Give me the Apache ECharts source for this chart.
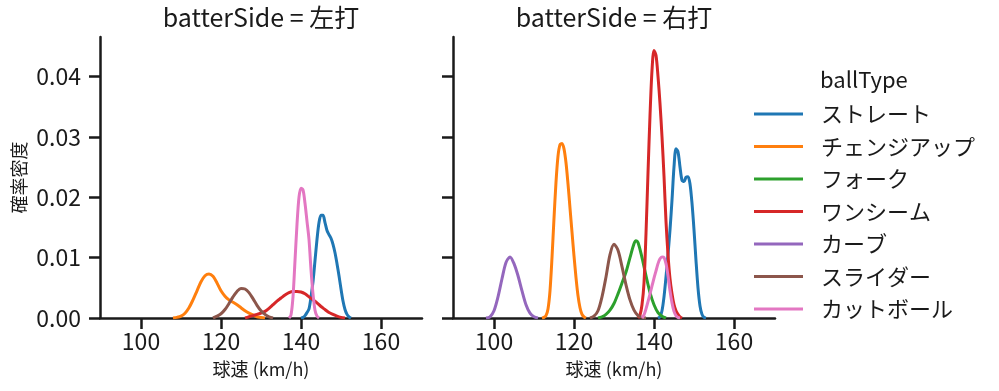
<!DOCTYPE html>
<html>
<head>
<meta charset="utf-8">
<script src="https://cdn.jsdelivr.net/npm/echarts@6/dist/echarts.min.js"></script>
<style>html,body{margin:0;padding:0;background:#fff;}#c{width:999px;height:391px;}</style>
</head>
<body>
<div id="c"></div>
<script>
// ---- data ----
const panelTitles = ['batterSide = 左打', 'batterSide = 右打'];
const ballTypes = ['ストレート', 'チェンジアップ', 'フォーク', 'ワンシーム', 'カーブ', 'スライダー', 'カットボール'];
const xTicks = [100, 120, 140, 160];
const yTicks = [0, 0.01, 0.02, 0.03, 0.04];

// 左打 (left-handed batters)
const leftStraight = [[140,0],[140.5,0.0001],[141,0.0004],[141.5,0.0009],[142,0.0015],[142.5,0.0035],[143,0.006],[143.5,0.0095],[144,0.013],[144.5,0.0158],[145,0.017],[145.5,0.017],[146,0.0158],[146.5,0.0145],[147,0.0138],[147.5,0.0132],[148,0.0122],[148.5,0.0108],[149,0.009],[149.5,0.007],[150,0.0048],[150.5,0.0028],[151,0.0014],[151.5,0.0006],[152,0.0002],[152.5,0]];
const leftChangeup = [[108,0],[109,0.0001],[110,0.0003],[111,0.0008],[112,0.0017],[113,0.003],[114,0.0045],[115,0.006],[116,0.007],[117,0.0073],[118,0.0069],[119,0.0058],[120,0.0045],[121,0.0036],[122,0.003],[123,0.0026],[124,0.0022],[125,0.0017],[126,0.0012],[127,0.0008],[128,0.0005],[129,0.0002],[130,0.0001],[131,0]];
const leftOneSeam = [[126,0],[127,0.0002],[128,0.0004],[129,0.0006],[130,0.0008],[131,0.0011],[132,0.0016],[133,0.0022],[134,0.0028],[135,0.0033],[136,0.0038],[137,0.0042],[138,0.0044],[139,0.0044],[140,0.0043],[141,0.004],[142,0.0035],[143,0.003],[144,0.0025],[145,0.0019],[146,0.0014],[147,0.0009],[148,0.0006],[149,0.0003],[150,0.0001],[151,0]];
const leftSlider = [[118,0],[119,0.0003],[120,0.0007],[121,0.0014],[122,0.0024],[123,0.0035],[124,0.0044],[125,0.0049],[126,0.0048],[127,0.0042],[128,0.0032],[129,0.0021],[130,0.0012],[131,0.0006],[132,0.0002],[133,0]];
const leftCutter = [[137,0],[137.5,0.0005],[138,0.0035],[138.5,0.0095],[139,0.0155],[139.5,0.02],[140,0.0215],[140.5,0.0212],[141,0.019],[141.5,0.016],[142,0.013],[142.5,0.008],[143,0.004],[143.5,0.0013],[144,0.0003],[144.5,0]];

// 右打 (right-handed batters)
const rightStraight = [[141,0],[141.5,0.0002],[142,0.0012],[142.5,0.0035],[143,0.0068],[143.5,0.0105],[144,0.0146],[144.5,0.0195],[145,0.025],[145.5,0.028],[146,0.0275],[146.5,0.025],[147,0.0228],[147.5,0.0226],[148,0.0233],[148.5,0.0234],[149,0.0222],[149.5,0.019],[150,0.0146],[150.5,0.0095],[151,0.005],[151.5,0.002],[152,0.0006],[152.5,0.0001],[153,0]];
const rightChangeup = [[112,0],[112.5,0.0001],[113,0.0004],[113.5,0.0015],[114,0.0045],[114.5,0.01],[115,0.0165],[115.5,0.0225],[116,0.0268],[116.5,0.0287],[117,0.0289],[117.5,0.028],[118,0.0257],[118.5,0.0222],[119,0.0182],[119.5,0.0142],[120,0.0103],[120.5,0.0067],[121,0.0037],[121.5,0.0017],[122,0.0006],[122.5,0.0002],[123,0]];
const rightFork = [[126,0],[127,0.0002],[128,0.0006],[129,0.0013],[130,0.0024],[131,0.004],[132,0.0058],[133,0.0076],[134,0.01],[135,0.0123],[135.5,0.0128],[136,0.0125],[137,0.01],[138,0.007],[139,0.0042],[140,0.0022],[141,0.0009],[142,0.0003],[143,0]];
const rightOneSeam = [[136,0],[136.5,0.0005],[137,0.0022],[137.5,0.0058],[138,0.014],[138.5,0.024],[139,0.0335],[139.5,0.041],[140,0.0443],[140.5,0.0435],[141,0.04],[141.5,0.0355],[142,0.03],[142.5,0.0235],[143,0.016],[143.5,0.0105],[144,0.0065],[144.5,0.004],[145,0.0022],[145.5,0.0012],[146,0.0006],[146.5,0.0002],[147,0]];
const rightCurve = [[98,0],[99,0.0002],[100,0.0012],[101,0.0035],[102,0.0065],[103,0.0092],[104,0.0101],[105,0.009],[106,0.007],[107,0.0045],[108,0.0022],[109,0.0008],[110,0.0002],[111,0]];
const rightSlider = [[124,0],[125,0.0003],[126,0.0012],[127,0.0035],[128,0.0068],[129,0.0105],[130,0.0122],[131,0.0112],[132,0.0085],[133,0.0055],[134,0.003],[135,0.0013],[136,0.0004],[137,0.0001],[138,0]];
const rightCutter = [[137,0],[137.5,0.0005],[138,0.0015],[138.5,0.0027],[139,0.004],[139.5,0.0053],[140,0.0066],[140.5,0.0078],[141,0.009],[141.5,0.0098],[142,0.0101],[142.5,0.01],[143,0.009],[143.5,0.007],[144,0.0045],[144.5,0.0025],[145,0.0011],[145.5,0.0004],[146,0.0001],[146.5,0]];

// ---- chart ----
const colors = {
  'ストレート': '#1f77b4', 'チェンジアップ': '#ff7f0e', 'フォーク': '#2ca02c', 'ワンシーム': '#d62728',
  'カーブ': '#9467bd', 'スライダー': '#8c564b', 'カットボール': '#e377c2'
};
const FONT = '"Noto Sans CJK JP", "Noto Sans", sans-serif';
const INK = '#1a1a1a';

const panels = [
  { 'ストレート': leftStraight, 'チェンジアップ': leftChangeup, 'ワンシーム': leftOneSeam, 'スライダー': leftSlider, 'カットボール': leftCutter },
  { 'ストレート': rightStraight, 'チェンジアップ': rightChangeup, 'フォーク': rightFork, 'ワンシーム': rightOneSeam, 'カーブ': rightCurve, 'スライダー': rightSlider, 'カットボール': rightCutter }
];

const gridLefts = [100, 453];
const series = [];
panels.forEach((p, gi) => {
  ballTypes.forEach(bt => {
    if (!p[bt]) return;
    series.push({
      type: 'line', name: bt, xAxisIndex: gi, yAxisIndex: gi, data: p[bt],
      smooth: 0.3, showSymbol: false, symbol: 'none',
      lineStyle: { color: colors[bt], width: 3 }, itemStyle: { color: colors[bt] },
      emphasis: { disabled: true }, silent: true, z: 2
    });
  });
});

function xAxis(gi) {
  return {
    type: 'value', gridIndex: gi, min: 89.75, max: 170.25,
    name: '球速 (km/h)', nameLocation: 'middle', nameGap: 42,
    nameTextStyle: { fontFamily: FONT, fontSize: 18, color: INK },
    axisLine: { show: true, onZero: false, lineStyle: { color: INK, width: 2.5 } },
    axisTick: { show: true, length: 11, lineStyle: { color: INK, width: 2.5 }, customValues: xTicks },
    axisLabel: { fontFamily: FONT, fontSize: 23, color: INK, margin: 12, customValues: xTicks },
    splitLine: { show: false }
  };
}
function yAxis(gi) {
  return {
    type: 'value', gridIndex: gi, min: 0, max: 0.04652,
    name: gi === 0 ? '確率密度' : '', nameLocation: 'middle', nameGap: 72,
    nameTextStyle: { fontFamily: FONT, fontSize: 18, color: INK },
    axisLine: { show: true, lineStyle: { color: INK, width: 2.5 } },
    axisTick: { show: true, length: 11, lineStyle: { color: INK, width: 2.5 }, customValues: yTicks },
    axisLabel: { show: gi === 0, fontFamily: FONT, fontSize: 23, color: INK, margin: 19, customValues: yTicks,
      formatter: v => v.toFixed(2) },
    splitLine: { show: false }
  };
}

const chart = echarts.init(document.getElementById('c'), null, { renderer: 'canvas' });
chart.setOption({
  animation: false,
  backgroundColor: '#fff',
  title: [
    { text: panelTitles[0], left: 261, top: 5, textAlign: 'center', padding: 0, textStyle: { fontFamily: FONT, fontSize: 25, fontWeight: 'normal', color: INK } },
    { text: panelTitles[1], left: 614, top: 5, textAlign: 'center', padding: 0, textStyle: { fontFamily: FONT, fontSize: 25, fontWeight: 'normal', color: INK } },
    { text: 'ballType', left: 820, top: 69, padding: 0, textStyle: { fontFamily: FONT, fontSize: 22, fontWeight: 'normal', color: INK } }
  ],
  grid: [
    { left: gridLefts[0], top: 37, width: 322, height: 281, containLabel: false },
    { left: gridLefts[1], top: 37, width: 322, height: 281, containLabel: false }
  ],
  xAxis: [xAxis(0), xAxis(1)],
  yAxis: [yAxis(0), yAxis(1)],
  legend: {
    data: ballTypes, orient: 'vertical', left: 754, top: 103, padding: 0,
    icon: 'rect', itemWidth: 49, itemHeight: 3, itemGap: 10.5,
    selectedMode: false,
    textStyle: { fontFamily: FONT, fontSize: 22, color: INK, lineHeight: 22, padding: [0, 0, 0, 13] }
  },
  series: series
});
</script>
</body>
</html>
